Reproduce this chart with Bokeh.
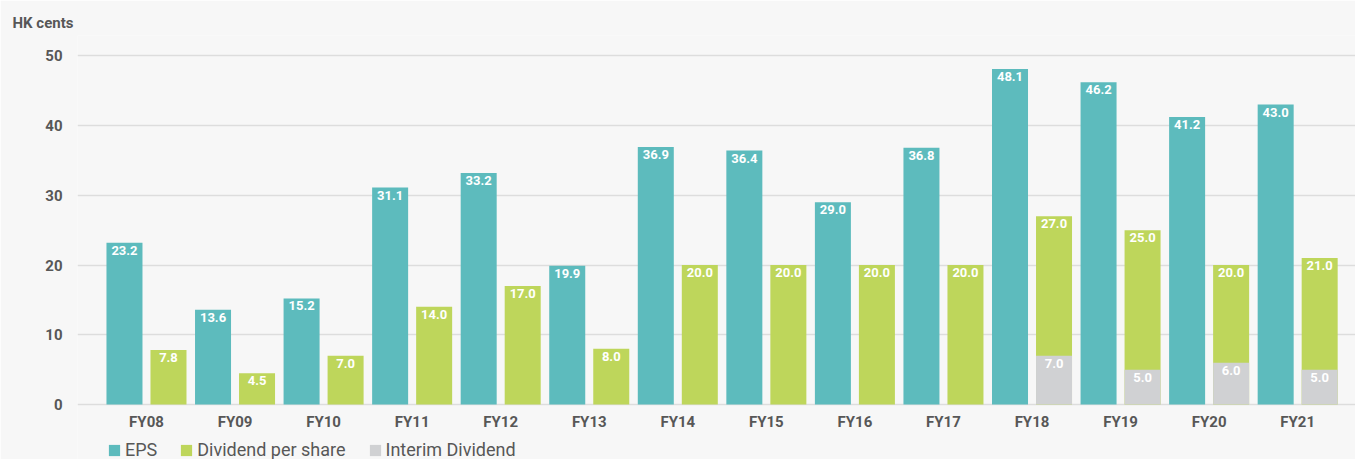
from bokeh.plotting import figure
from bokeh.models import ColumnDataSource, FixedTicker, Range1d, Legend, LegendItem
from bokeh.core.properties import value
from bokeh.embed import file_html
from bokeh.resources import INLINE

# ---- data ----
categories = ["FY08", "FY09", "FY10", "FY11", "FY12", "FY13", "FY14",
              "FY15", "FY16", "FY17", "FY18", "FY19", "FY20", "FY21"]
eps = [23.2, 13.6, 15.2, 31.1, 33.2, 19.9, 36.9, 36.4, 29.0, 36.8, 48.1, 46.2, 41.2, 43.0]
dividend = [7.8, 4.5, 7.0, 14.0, 17.0, 8.0, 20.0, 20.0, 20.0, 20.0, 27.0, 25.0, 20.0, 21.0]
interim = [0.0, 0.0, 0.0, 0.0, 0.0, 0.0, 0.0, 0.0, 0.0, 0.0, 7.0, 5.0, 6.0, 5.0]
y_ticks = [0, 10, 20, 30, 40, 50]
unit_title = "HK cents"
series_names = ["EPS", "Dividend per share", "Interim Dividend"]

# ---- style ----
TEAL = "#5dbbbd"
GREEN = "#bed65b"
GRAY = "#d0d1d3"
BG = "#f7f7f7"
TXT = "#575757"
FONT = "Roboto"
OFF = 0.2485
W = 0.4066

idx = list(range(len(categories)))
src = ColumnDataSource(dict(
    eps_x=[i - OFF for i in idx],
    div_x=[i + OFF for i in idx],
    eps=eps, div=dividend, intr=interim,
    eps_lab=[f"{v:.1f}" for v in eps],
    div_lab=[f"{v:.1f}" for v in dividend],
))
ii = [i for i in idx if interim[i] > 0]
src_int = ColumnDataSource(dict(
    x=[i + OFF for i in ii],
    y=[interim[i] for i in ii],
    lab=[f"{interim[i]:.1f}" for i in ii],
))

# frame extends to the bottom of the window; the area below zero holds
# the category labels (axis at y=0) and the legend
p = figure(frame_width=1278, frame_height=424,
           x_range=Range1d(-0.779, 13.653), y_range=Range1d(-7.88, 52.9),
           output_backend="svg", toolbar_location=None,
           background_fill_color=BG, border_fill_color=BG,
           min_border_left=77, min_border_right=0,
           min_border_top=35, min_border_bottom=0)
p.outline_line_color = None

p.title.text = unit_title
p.title.align = "left"
p.title.offset = -65
p.title.text_font = FONT
p.title.text_font_size = "15px"
p.title.text_font_style = "bold"
p.title.text_color = TXT
p.title.standoff = 8

p.xgrid.visible = False
p.ygrid.ticker = FixedTicker(ticks=y_ticks)
p.ygrid.grid_line_color = "#dddddd"
p.ygrid.grid_line_width = 1.5

yax = p.yaxis[0]
yax.ticker = FixedTicker(ticks=y_ticks)
yax.axis_line_color = None
yax.major_tick_line_color = None
yax.minor_tick_line_color = None
yax.major_label_standoff = 9
yax.major_label_text_font = FONT
yax.major_label_text_font_size = "15px"
yax.major_label_text_font_style = "bold"
yax.major_label_text_color = TXT

xax = p.xaxis[0]
xax.fixed_location = 0
xax.ticker = FixedTicker(ticks=idx)
xax.major_label_overrides = {i: c for i, c in enumerate(categories)}
xax.axis_line_color = None
xax.major_tick_line_color = None
xax.minor_tick_line_color = None
xax.major_label_standoff = 2
xax.major_label_text_font = FONT
xax.major_label_text_font_size = "15px"
xax.major_label_text_font_style = "bold"
xax.major_label_text_color = TXT

r_eps = p.vbar(x="eps_x", top="eps", width=W, bottom=0, source=src,
               fill_color=TEAL, line_color=None)
r_div = p.vbar(x="div_x", top="div", width=W, bottom=0, source=src,
               fill_color=GREEN, line_color=None)
r_int = p.vbar(x="x", top="y", width=W, bottom=0, source=src_int,
               fill_color=GRAY, line_color=None)

lab_kw = dict(text_align="center", text_baseline="top", y_offset=3,
              text_color="white", text_font=value(FONT),
              text_font_size="13px", text_font_style="bold")
p.text(x="eps_x", y="eps", text="eps_lab", source=src, **lab_kw)
p.text(x="div_x", y="div", text="div_lab", source=src, **lab_kw)
p.text(x="x", y="y", text="lab", source=src_int, **lab_kw)

legend = Legend(items=[LegendItem(label=series_names[0], renderers=[r_eps]),
                       LegendItem(label=series_names[1], renderers=[r_div]),
                       LegendItem(label=series_names[2], renderers=[r_int])],
                orientation="horizontal", location=(30, -1))
legend.margin = 0
legend.padding = 0
legend.spacing = 22
legend.label_standoff = 4
legend.glyph_width = 14
legend.glyph_height = 14
legend.label_text_font = FONT
legend.label_text_font_size = "18px"
legend.label_text_color = TXT
legend.label_height = 16
legend.border_line_color = None
legend.background_fill_alpha = 0
p.add_layout(legend, "center")

open("out.html", "w").write(file_html(p, INLINE))
